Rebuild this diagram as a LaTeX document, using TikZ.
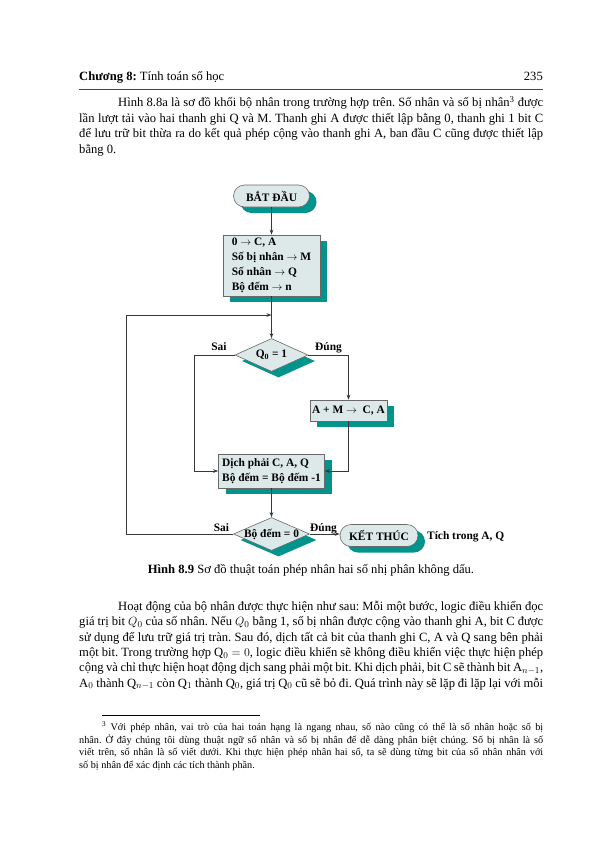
\documentclass[tikz,border=0pt]{standalone}
\usepackage{fontspec}
\setmainfont{Liberation Serif}
\usetikzlibrary{shapes.geometric,shadows,arrows.meta}
\definecolor{boxfill}{RGB}{221,233,233}
\definecolor{tealsh}{RGB}{0,148,140}
\definecolor{edgec}{RGB}{105,105,105}
\definecolor{linec}{RGB}{55,55,55}
\definecolor{rulec}{RGB}{70,70,70}
\frenchspacing
\newcommand{\bodyfont}{\fontsize{12.6bp}{15.5bp}\selectfont}
\newcommand{\fnfont}{\fontsize{10.2bp}{12.7bp}\selectfont}
\newcommand{\fcfont}{\bfseries\fontsize{11.4bp}{15bp}\selectfont}
\newcommand{\jl}[2]{\makebox[#1bp][s]{#2}}
\begin{document}
\begin{tikzpicture}[x=1bp,y=-1bp,
  txt/.style={anchor=base west,inner sep=0pt,font=\bodyfont\frenchspacing},
  fn/.style={anchor=base west,inner sep=0pt,font=\fnfont\frenchspacing},
  sh/.style={drop shadow={shadow xshift=7bp,shadow yshift=-6bp,fill=tealsh,opacity=1}},
  proc/.style={rectangle,draw=edgec,line width=0.6bp,fill=boxfill,sh,font=\fcfont,inner sep=0pt,align=left},
  term/.style={rectangle,rounded corners=11bp,draw=edgec,line width=0.6bp,fill=boxfill,sh,font=\fcfont,inner sep=0pt,minimum height=22bp},
  dec/.style={diamond,draw=edgec,line width=0.6bp,fill=boxfill,sh,inner sep=0pt,minimum height=33bp},
  lbl/.style={font=\fcfont,inner sep=0pt,anchor=base},
  arr/.style={draw=linec,line width=0.8bp,-{Stealth[length=5bp,width=3.6bp]}}]
\useasboundingbox (0,0) rectangle (595,842);
\fill[white] (0,0) rectangle (595,842);
% header
\node[txt] (h1) at (79,80) {\textbf{Chương 8:} Tính toán số học};
\node[txt,anchor=base east] (h2) at (543,80) {235};
\coordinate (hr1) at (79,89.5);
\coordinate (hr2) at (543,89.5);
\draw[rulec,line width=1.2bp] (hr1) -- (hr2);
% paragraph 1
\node[txt] (a1) at (118,106.5) {\jl{425}{Hình 8.8a là sơ đồ khối bộ nhân trong trường hợp trên. Số nhân và số bị nhân\textsuperscript{3} được}};
\node[txt] (a2) at (79,122) {\jl{464}{lần lượt tải vào hai thanh ghi Q và M. Thanh ghi A được thiết lập bằng 0, thanh ghi 1 bit C}};
\node[txt] (a3) at (79,137.5) {\jl{464}{để lưu trữ bit thừa ra do kết quả phép cộng vào thanh ghi A, ban đầu C cũng được thiết lập}};
\node[txt] (a4) at (79,153) {bằng 0.};
% flowchart
\node[term,minimum width=76bp] (start) at (271.5,196) {BẮT ĐẦU};
\node[proc,minimum width=97bp,minimum height=61bp] (init) at (271.5,265.5)
  {0 $\rightarrow$ C, A\\Số bị nhân $\rightarrow$ M\\Số nhân $\rightarrow$ Q\\Bộ đếm $\rightarrow$ n};
\node[dec,minimum width=73bp] (q1) at (271.5,355) {};
\node[font=\fcfont,inner sep=0pt] (q1t) at (q1) {Q\textsubscript{0} = 1};
\node[proc,minimum width=77bp,minimum height=21bp] (amc) at (348.5,410.5) {A + M $\rightarrow$~ C, A};
\node[proc,minimum width=106bp,minimum height=34bp] (shift) at (271.5,471) {Dịch phải C, A, Q\\Bộ đếm = Bộ đếm -1};
\node[dec,minimum width=76bp] (q2) at (271.5,534) {};
\node[font=\fcfont,inner sep=0pt] (q2t) at (q2) {Bộ đếm = 0};
\node[term,minimum width=78bp] (end) at (379,535.5) {KẾT THÚC};
\node[font=\fcfont,inner sep=0pt,anchor=west] (res) at (427,536.5) {Tích trong A, Q};
\node[lbl] (s1) at (219,350.5) {Sai};
\node[lbl] (d1) at (328.5,350.5) {Đúng};
\node[lbl] (s2) at (221.5,531) {Sai};
\node[lbl] (d2) at (323.5,531) {Đúng};
\coordinate (lb) at (194,0);
\coordinate (ol) at (126,315);
\coordinate (join) at (init.south |- ol);
\draw[arr] (start) -- (init);
\draw[arr] (init) -- (q1);
\draw[arr] (q2.west) -| (ol) -- (join);
\draw[arr] (q1.east) -| (amc.north);
\draw[arr] (q1.west) -| (lb |- shift.west) -- (shift.west);
\draw[arr] (amc.south) |- (shift.east);
\draw[arr] (shift) -- (q2);
\draw[arr] (q2.east) -- (q2.east -| end.west);
% caption
\node[anchor=base,inner sep=0pt,font=\bodyfont] (cap) at (311,573.5) {\textbf{Hình 8.9} Sơ đồ thuật toán phép nhân hai số nhị phân không dấu.};
% paragraph 2
\node[txt] (b1) at (118,610.5) {\jl{425}{Hoạt động của bộ nhân được thực hiện như sau: Mỗi một bước, logic điều khiển đọc}};
\node[txt] (b2) at (79,625.8) {\jl{464}{giá trị bit $Q_0$ của số nhân. Nếu $Q_0$ bằng 1, số bị nhân được cộng vào thanh ghi A, bit C được}};
\node[txt] (b3) at (79,641.1) {\jl{464}{sử dụng để lưu trữ giá trị tràn. Sau đó, dịch tất cả bit của thanh ghi C, A và Q sang bên phải}};
\node[txt] (b4) at (79,656.4) {\jl{464}{một bit. Trong trường hợp $\mathrm{Q}_0 = 0$, logic điều khiển sẽ không điều khiển việc thực hiện phép}};
\node[txt] (b5) at (79,671.7) {\jl{464}{cộng và chỉ thực hiện hoạt động dịch sang phải một bit. Khi dịch phải, bit C sẽ thành bit $\mathrm{A}_{n-1}$,}};
\node[txt] (b6) at (79,687) {\jl{464}{$\mathrm{A}_0$ thành $\mathrm{Q}_{n-1}$ còn $\mathrm{Q}_1$ thành $\mathrm{Q}_0$, giá trị $\mathrm{Q}_0$ cũ sẽ bỏ đi. Quá trình này sẽ lặp đi lặp lại với mỗi}};
% footnote
\coordinate (fr1) at (102,715);
\coordinate (fr2) at (260,715);
\draw[black,line width=0.6bp] (fr1) -- (fr2);
\node[fn] (f1) at (102,730.5) {\jl{441}{\textsuperscript{3} Với phép nhân, vai trò của hai toán hạng là ngang nhau, số nào cũng có thể là số nhân hoặc số bị}};
\node[fn] (f2) at (79,743.2) {\jl{464}{nhân. Ở đây chúng tôi dùng thuật ngữ số nhân và số bị nhân để dễ dàng phân biệt chúng. Số bị nhân là số}};
\node[fn] (f3) at (79,755.9) {\jl{464}{viết trên, số nhân là số viết dưới. Khi thực hiện phép nhân hai số, ta sẽ dùng từng bit của số nhân nhân với}};
\node[fn] (f4) at (79,768.6) {số bị nhân để xác định các tích thành phần.};
\end{tikzpicture}
\end{document}
